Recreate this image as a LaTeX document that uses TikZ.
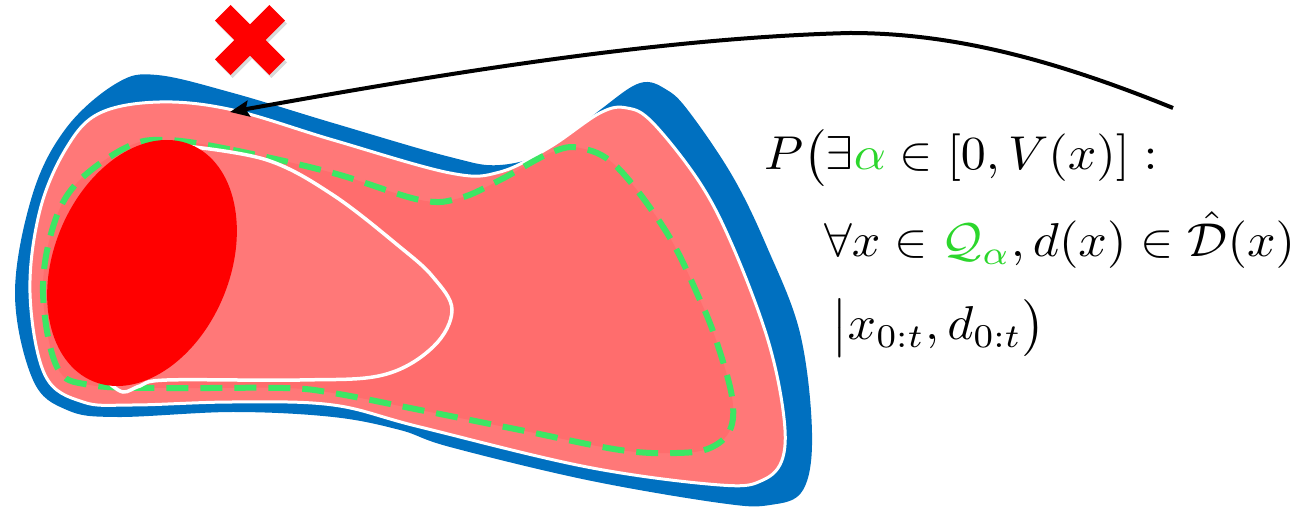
\documentclass[tikz,border=0pt]{standalone}
\usepackage{amsmath, amssymb}
\usepackage{xcolor}
\usetikzlibrary{arrows.meta, shadows}
\definecolor{level-blue}{HTML}{0070C0}
\definecolor{set-pink}{HTML}{FF7878}
\definecolor{inner-pink}{HTML}{FF6D6D}
\definecolor{dash-green}{HTML}{3CE664}
\definecolor{alpha-green}{HTML}{2CD62C}

\begin{document}
\begin{tikzpicture}[x=1pt, y=1pt,
    mathline/.style={anchor=base west, inner sep=0pt, xscale=5.0, yscale=4.75},
    whiteline/.style={draw=white, line width=3pt}]
  \useasboundingbox (0,0) rectangle (1316,508);
  \fill[level-blue] plot[smooth cycle, tension=0.6] coordinates {
    (157,433) (233,415) (333,385) (450,351) (500,343) (550,358) (600,398)
    (640,425) (667,418) (690,395) (733,331) (767,261) (800,175) (812,75)
    (803,18) (770,3) (720,5) (587,28) (450,61) (400,78) (333,91) (233,96)
    (117,91) (67,98) (33,128) (15,215) (33,315) (67,381) (117,425)};
  \filldraw[whiteline, fill=set-pink] plot[smooth cycle, tension=0.6] coordinates {
    (160,406) (233,398) (333,368) (450,335) (500,336) (550,361) (600,395)
    (627,400) (653,385) (700,325) (733,261) (767,171) (783,98) (783,51)
    (763,28) (720,23) (587,41) (420,81) (333,103) (233,106) (133,103)
    (83,106) (45,133) (30,215) (40,298) (67,361) (100,395)};
  \filldraw[draw=dash-green, line width=6pt, dash pattern=on 22pt off 12pt, fill=inner-pink]
    plot[smooth cycle, tension=0.6] coordinates {
    (167,368) (233,358) (333,335) (420,308) (460,310) (500,328) (550,355)
    (580,360) (617,341) (667,275) (700,208) (717,165) (732,111) (730,78)
    (710,60) (677,55) (620,58) (520,78) (420,98) (333,115) (283,120)
    (167,120) (90,123) (57,141) (43,215) (53,281) (77,325) (127,361)};
  \filldraw[whiteline, line width=3.5pt, fill=set-pink] plot[smooth, tension=0.6] coordinates {
    (108,126) (123,116) (140,122) (167,128) (300,128) (383,133) (433,161)
    (452,198) (433,231) (400,261) (333,313) (267,348) (185,362)}
    -- (150,250) -- cycle;
  \fill[red] (142,245) ellipse[x radius=128pt, y radius=88pt, rotate=67.6];
  \fill[red, drop shadow={opacity=0.3, shadow xshift=2pt, shadow yshift=-3pt},
        shift={(250,468)}, rotate=45]
    (11,11) -- (11,38.5) -- (-11,38.5) -- (-11,11) -- (-38.5,11) -- (-38.5,-11)
    -- (-11,-11) -- (-11,-38.5) -- (11,-38.5) -- (11,-11) -- (38.5,-11) -- (38.5,11) -- cycle;
  \coordinate (tail) at (1173,400);
  \coordinate (crest) at (850,475);
  \coordinate (tip) at (230,396);
  \draw[line width=4pt, -{Stealth[length=19pt, width=16pt, inset=3pt]}]
    (tail) .. controls (1050,450) and (950,475) .. (crest)
    .. controls (650,470) and (420,430) .. (tip);
  \node[mathline] (cond-a) at (763,338)
    {$P\bigl(\exists{\color{alpha-green}\alpha} \in [0, V(x)] :$};
  \node[mathline] (cond-b) at (823,251)
    {$\forall x \in {\color{alpha-green}\mathcal{Q}_{\alpha}}, d(x) \in \hat{\mathcal{D}}(x)$};
  \node[mathline] (cond-c) at (830,168)
    {$\bigl| x_{0:t}, d_{0:t}\bigr)$};
\end{tikzpicture}
\end{document}
